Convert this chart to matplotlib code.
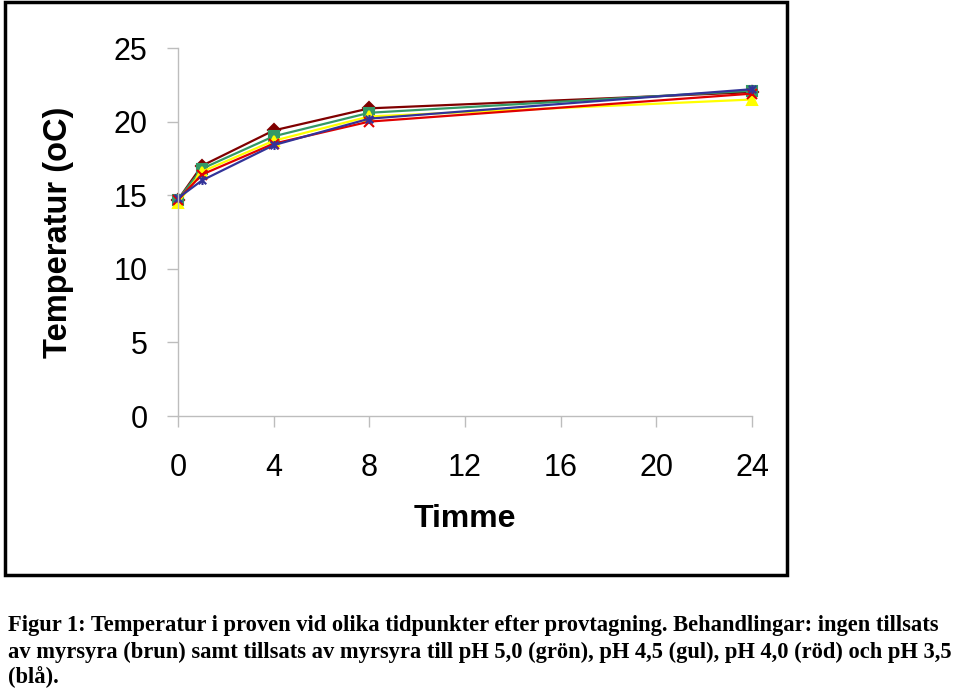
import matplotlib

matplotlib.use("Agg")
import matplotlib.pyplot as plt
from matplotlib.patches import Rectangle
from matplotlib.path import Path

hours = [0, 1, 4, 8, 24]
brun = [14.7, 17.0, 19.4, 20.9, 22.0]
gron = [14.7, 16.8, 19.0, 20.6, 22.1]
gul = [14.5, 16.6, 18.7, 20.35, 21.5]
rod = [14.7, 16.4, 18.5, 20.0, 21.9]
bla = [14.8, 16.0, 18.4, 20.2, 22.2]

x_ticks = [0, 4, 8, 12, 16, 20, 24]
y_ticks = [0, 5, 10, 15, 20, 25]

caption_lines = [
    "Figur 1: Temperatur i proven vid olika tidpunkter efter provtagning. Behandlingar: ingen tillsats",
    "av myrsyra (brun) samt tillsats av myrsyra till pH 5,0 (grön), pH 4,5 (gul), pH 4,0 (röd) och pH 3,5",
    "(blå).",
]

# excel style "star" marker: an X with a vertical bar
star = Path(
    [(-1, -1), (1, 1), (-1, 1), (1, -1), (0, -1.2), (0, 1.2)],
    [Path.MOVETO, Path.LINETO, Path.MOVETO, Path.LINETO, Path.MOVETO, Path.LINETO],
)

W, H = 960, 689
fig = plt.figure(figsize=(9.6, 6.89), dpi=100)
plt.rcParams["font.family"] = ["Liberation Sans", "DejaVu Sans"]

# outer chart frame
fig.patches.append(Rectangle((5 / W, 1 - 575 / H), 782 / W, 573 / H, transform=fig.transFigure,
                             fill=False, edgecolor="black", linewidth=2.5))

ax = fig.add_axes([178 / W, 1 - 416 / H, 574 / W, 368 / H])

series = [
    (brun, "#800000", "D", 6.5),
    (gron, "#339966", "s", 6.5),
    (gul, "#FFFF00", "^", 7.5),
    (rod, "#E00000", "x", 7.5),
    (bla, "#333399", star, 6.5),
]
for values, color, marker, ms in series:
    ax.plot(hours, values, color=color, linewidth=1.6, marker=marker, markersize=ms,
            markerfacecolor=color, markeredgecolor=color, markeredgewidth=1.5, clip_on=False)

ax.set_xlim(0, 24)
ax.set_ylim(0, 25)
ax.set_xticks(x_ticks)
ax.set_yticks(y_ticks)
for side in ("top", "right"):
    ax.spines[side].set_visible(False)
for side in ("left", "bottom"):
    ax.spines[side].set_color("#bdbdbd")
    ax.spines[side].set_linewidth(1.0)
ax.tick_params(axis="both", direction="out", length=8, width=1.0, color="#bdbdbd",
               labelsize=22, labelcolor="black")
ax.tick_params(axis="x", pad=19)
ax.tick_params(axis="y", pad=14)

ax.set_xlabel("Timme", fontsize=23, fontweight="bold", va="center")
ax.xaxis.set_label_coords(0.5, (416 - 519) / 368)
ax.set_ylabel("Temperatur (oC)", fontsize=23.5, fontweight="bold", va="center")
ax.yaxis.set_label_coords((58 - 178) / 574, 0.5)

# caption below the chart frame, sized so the longest lines fit the page width
caption_y = [625, 652, 677]
target = [944, 946]
texts = []
for line, yy in zip(caption_lines, caption_y):
    texts.append(fig.text(8 / W, 1 - yy / H, line, family="Liberation Serif", fontweight="bold",
                          fontsize=15, ha="left", va="center"))
renderer = fig.canvas.get_renderer()
size = min(15 * tw / t.get_window_extent(renderer).width for t, tw in zip(texts, target))
for t in texts:
    t.set_fontsize(size)

fig.savefig("out.png", dpi=100)
